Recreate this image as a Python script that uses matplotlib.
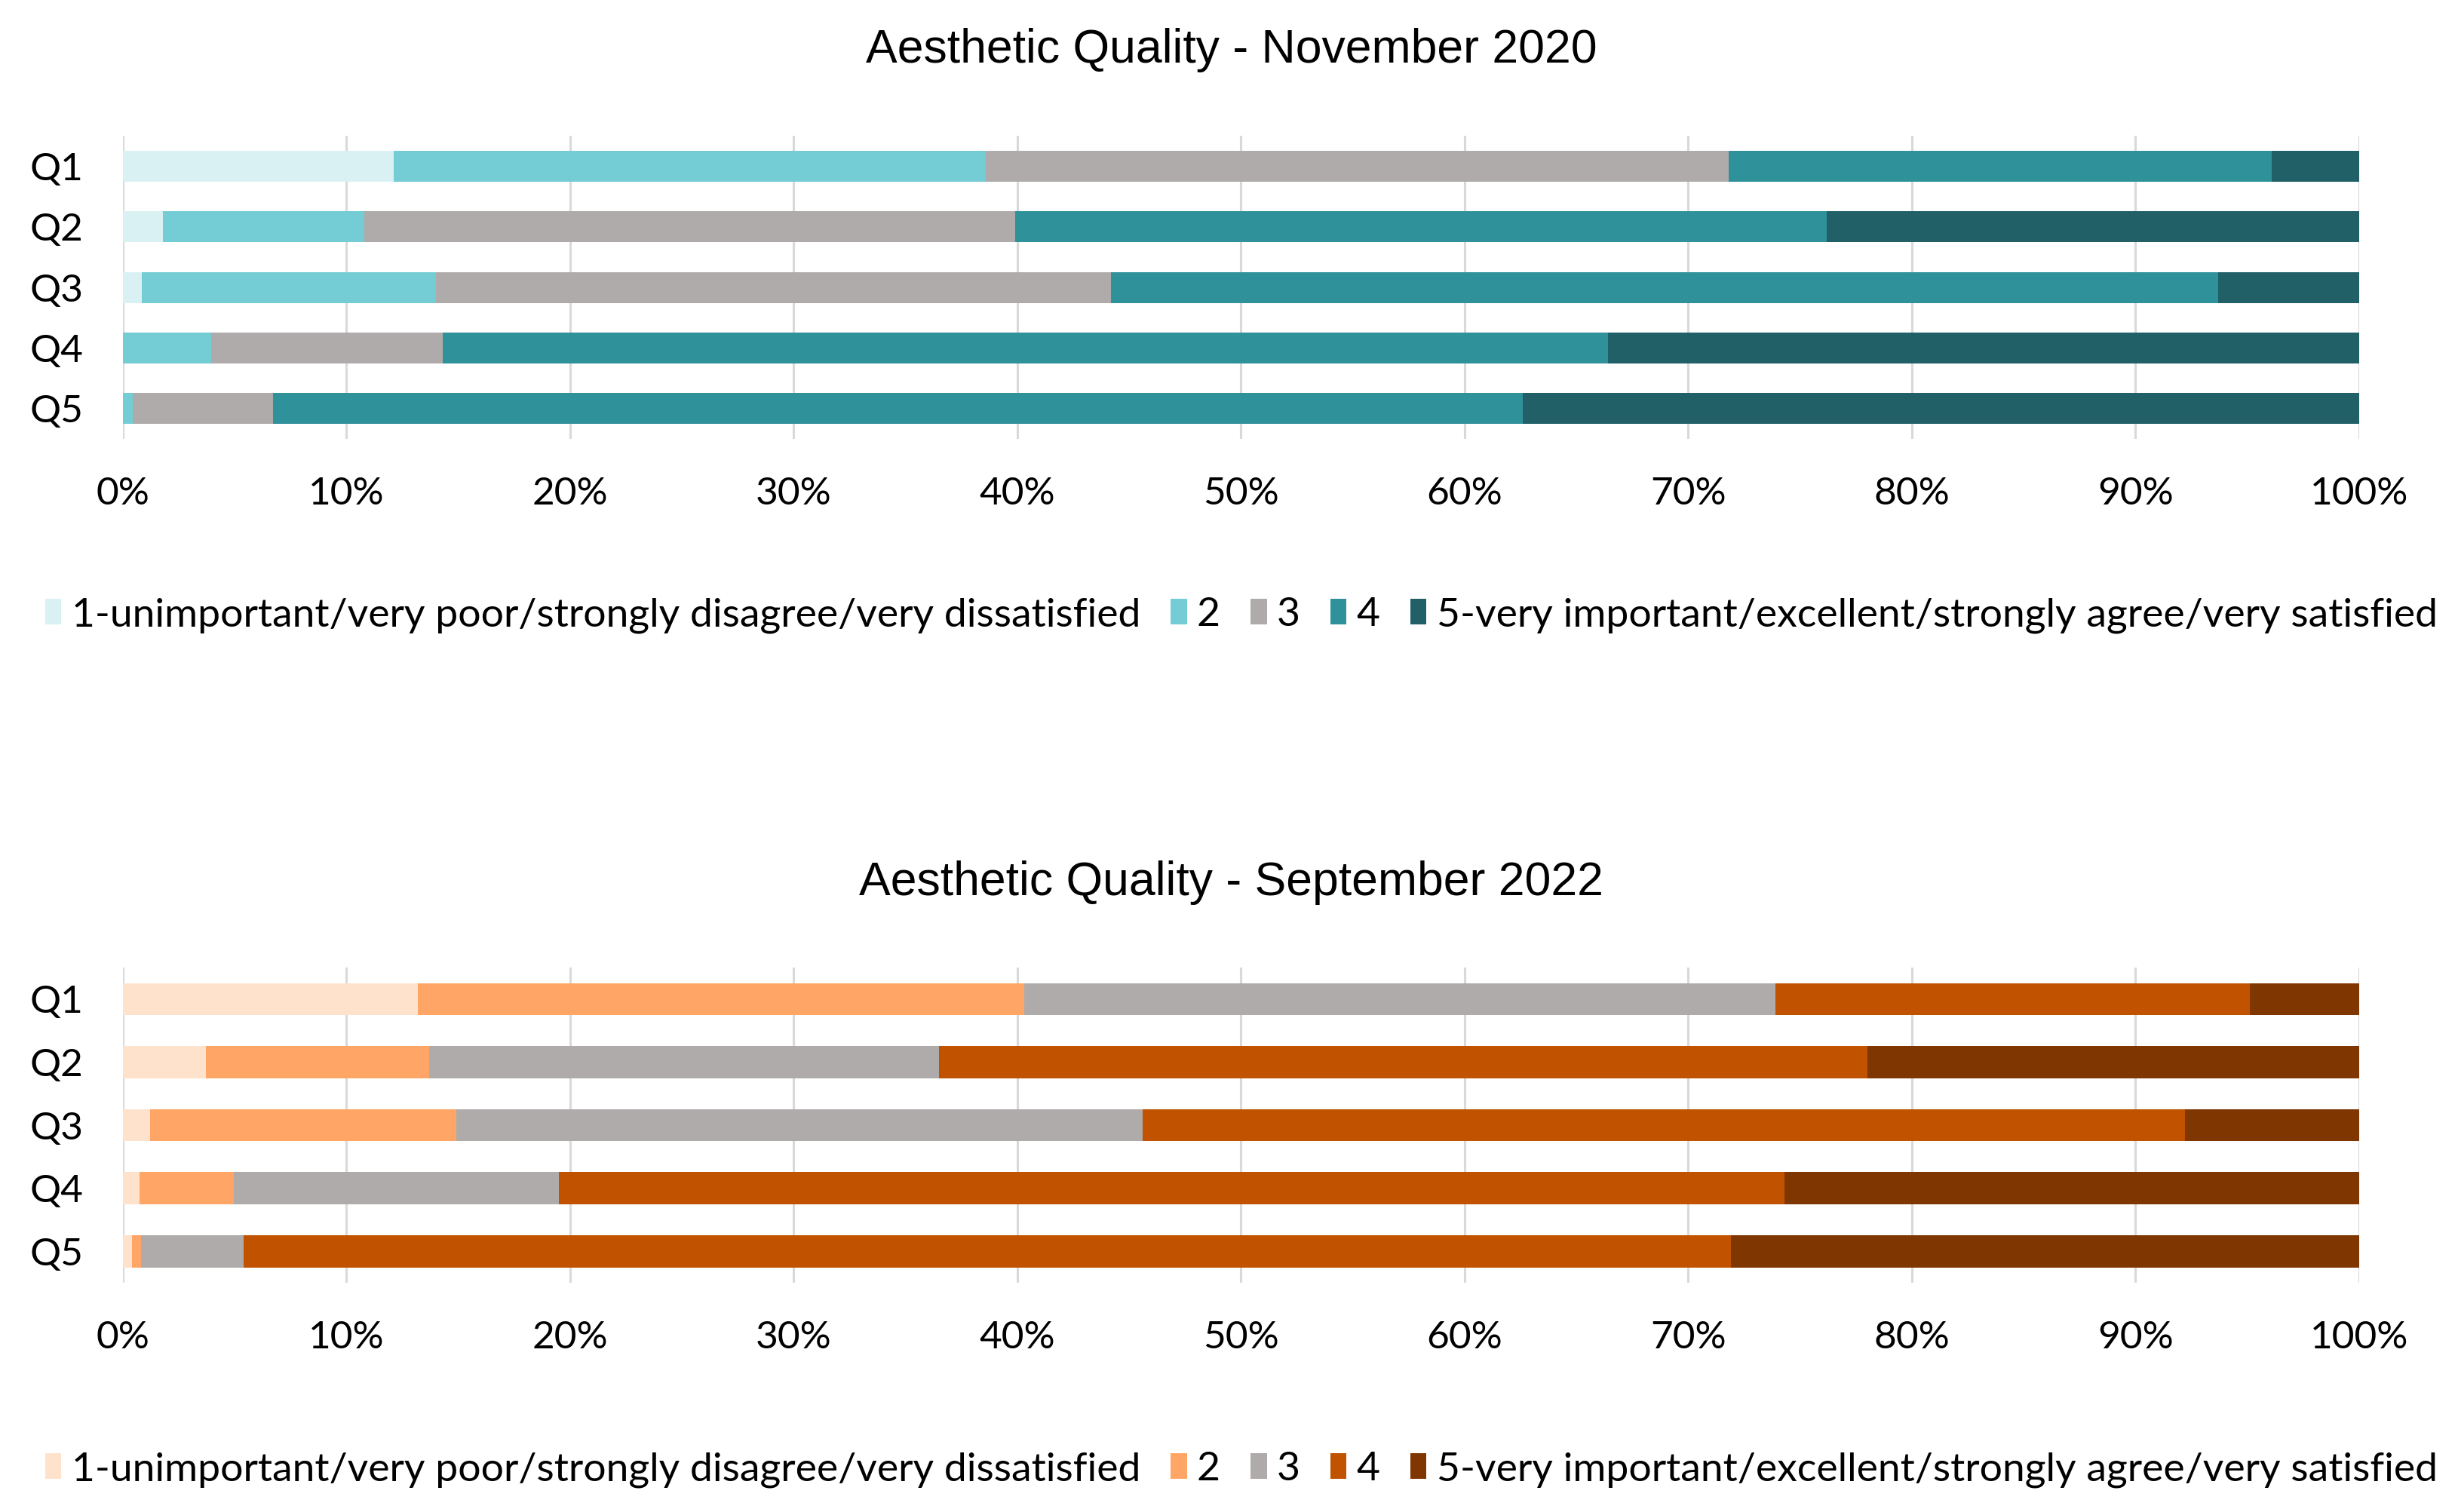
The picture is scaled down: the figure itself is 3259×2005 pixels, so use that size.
import matplotlib.pyplot as plt
import numpy as np

questions = ['Q1', 'Q2', 'Q3', 'Q4', 'Q5']
levels = ['1-unimportant/very poor/strongly disagree/very dissatisfied', '2', '3', '4',
          '5-very important/excellent/strongly agree/very satisfied']

# percent share of each level, per question
nov2020 = [
    [12.1, 1.8, 0.85, 0.0, 0.0],
    [26.5, 9.0, 13.15, 3.95, 0.45],
    [33.2, 29.1, 30.2, 10.35, 6.25],
    [24.3, 36.3, 49.5, 52.1, 55.9],
    [3.9, 23.8, 6.3, 33.6, 37.4],
]
sep2022 = [
    [13.2, 3.7, 1.2, 0.75, 0.4],
    [27.1, 10.0, 13.7, 4.2, 0.4],
    [33.6, 22.8, 30.7, 14.55, 4.6],
    [21.2, 41.5, 46.6, 54.8, 66.5],
    [4.9, 22.0, 7.8, 25.7, 28.1],
]

teal = ['#DAF1F3', '#74CDD5', '#AFABAB', '#2F9199', '#206066']
orange = ['#FFE2CC', '#FFA666', '#AFABAB', '#C05200', '#803600']

fig = plt.figure(figsize=(32.59, 20.05), dpi=100)
ax1 = fig.add_axes([0.050, 0.7097, 0.9098, 0.2003])
ax2 = fig.add_axes([0.050, 0.1516, 0.9098, 0.2084])


def draw(ax, data, colors, title, title_y, legend_y):
    y = np.arange(len(questions))
    left = np.zeros(len(questions))
    for i in range(len(levels)):
        vals = np.array(data[i]) / 100.0
        ax.barh(y, vals, left=left, height=0.51, color=colors[i], label=levels[i], zorder=3)
        left = left + vals
    ax.set_yticks(y)
    ax.set_yticklabels(questions)
    ax.set_ylim(4.5, -0.5)
    ax.set_xlim(0, 1)
    ax.set_xticks(np.arange(0, 1.01, 0.1))
    ax.set_xticklabels([f'{int(round(t * 100))}%' for t in np.arange(0, 1.01, 0.1)])
    ax.grid(axis='x', color='#D9D9D9', linewidth=2.2, zorder=0)
    for s in ax.spines.values():
        s.set_visible(False)
    ax.tick_params(axis='both', length=0, labelsize=37, colors='#000000')
    ax.tick_params(axis='x', pad=36)
    ax.tick_params(axis='y', pad=38)
    for lab in ax.get_xticklabels() + ax.get_yticklabels():
        lab.set_fontfamily('Lato')
    fig.text(0.501, title_y, title, ha='center', va='center', fontsize=45,
             family='Liberation Sans', color='#000000')
    fig.legend(*ax.get_legend_handles_labels(), loc='center', bbox_to_anchor=(0.505, legend_y),
               ncol=5, frameon=False, prop={'family': 'Lato', 'size': 38.5},
               handlelength=0.4, handleheight=0.6, handletextpad=0.25, columnspacing=0.75)


draw(ax1, nov2020, teal, 'Aesthetic Quality - November 2020', 0.967, 0.593)
draw(ax2, sep2022, orange, 'Aesthetic Quality - September 2022', 0.416, 0.028)

fig.savefig('out.png', dpi=100, facecolor='white')
